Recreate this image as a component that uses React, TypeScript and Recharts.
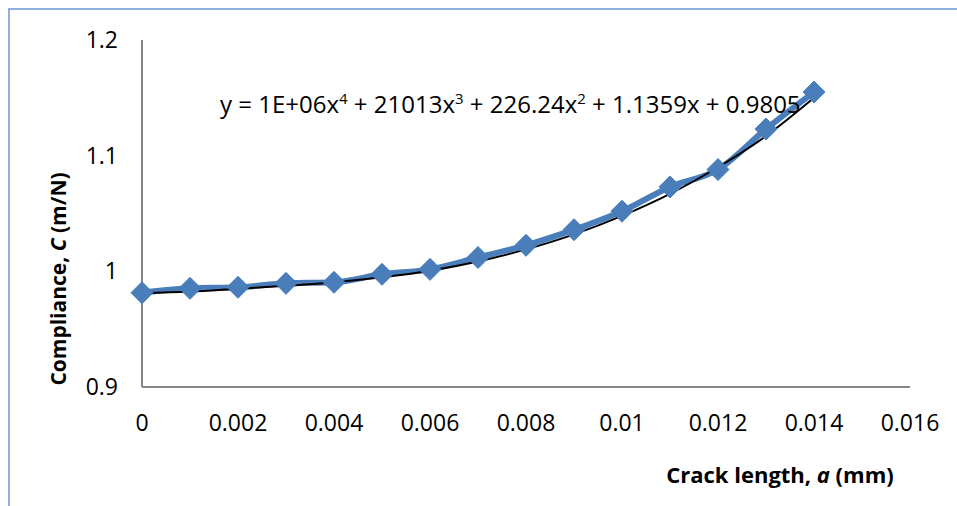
import React from 'react';
import { LineChart, Line, XAxis, YAxis } from 'recharts';

// crack length a (mm) and measured compliance C (m/N)
const crackLength = [0, 0.001, 0.002, 0.003, 0.004, 0.005, 0.006, 0.007, 0.008, 0.009, 0.01, 0.011, 0.012, 0.013, 0.014];
const compliance = [0.9815, 0.9853, 0.9862, 0.9896, 0.9905, 0.9974, 1.0017, 1.012, 1.0225, 1.036, 1.052, 1.073, 1.088, 1.123, 1.155];
// polynomial trendline
const trend = [0.981, 0.9825, 0.985, 0.9875, 0.9905, 0.9948, 1.0005, 1.0085, 1.019, 1.032, 1.048, 1.067, 1.09, 1.117, 1.15];

const xTicks = [0, 0.002, 0.004, 0.006, 0.008, 0.01, 0.012, 0.014, 0.016];
const yTicks = [0.9, 1, 1.1, 1.2];

const data = crackLength.map((a, i) => ({ a, c: compliance[i], fit: trend[i] }));

const FONT = '"Open Sans", "Liberation Sans", sans-serif';
const BLUE = '#4a7ebb';

const Diamond = (props: any) => {
  const { cx, cy } = props;
  if (cx == null || cy == null) return null;
  const r = 11;
  return (
    <polygon
      points={`${cx},${cy - r} ${cx + r},${cy} ${cx},${cy + r} ${cx - r},${cy}`}
      fill={BLUE}
      stroke={BLUE}
      strokeWidth={1}
    />
  );
};

const App = () => {
  return (
    <div style={{ position: 'absolute', left: 0, top: 0, width: 957, height: 506, background: '#fff', fontFamily: FONT }}>
      <div style={{ position: 'absolute', left: 8, top: 8, right: 0, bottom: 0, borderLeft: '2px solid #8fb0dc', borderTop: '2px solid #8fb0dc' }} />
      <LineChart width={957} height={506} data={data} margin={{ top: 40, right: 47, bottom: 19, left: 0 }}>
        <XAxis
          dataKey="a"
          type="number"
          domain={[0, 0.016]}
          ticks={xTicks}
          tickLine={false}
          tickSize={0}
          tickMargin={28}
          height={100}
          axisLine={{ stroke: '#868686', strokeWidth: 2 }}
          tick={{ fill: '#000', fontSize: 23, fontFamily: FONT }}
          label={{
            content: () => (
              <text x={780} y={483} textAnchor="middle" fontFamily={FONT} fontSize={22} fontWeight="bold" fill="#000">
                Crack length, <tspan fontStyle="italic">a</tspan> (mm)
              </text>
            ),
          }}
        />
        <YAxis
          type="number"
          domain={[0.9, 1.2]}
          ticks={yTicks}
          tickLine={false}
          tickSize={0}
          tickMargin={24}
          width={142}
          axisLine={{ stroke: '#868686', strokeWidth: 2 }}
          tick={{ fill: '#000', fontSize: 23, fontFamily: FONT }}
          label={{
            content: () => (
              <text
                x={66}
                y={279}
                transform="rotate(-90 66 279)"
                textAnchor="middle"
                fontFamily={FONT}
                fontSize={21}
                fontWeight="bold"
                fill="#000"
              >
                Compliance, <tspan fontStyle="italic">C</tspan> (m/N)
              </text>
            ),
          }}
        />
        <Line
          dataKey="c"
          type="monotone"
          stroke={BLUE}
          strokeWidth={6}
          dot={<Diamond />}
          isAnimationActive={false}
        />
        <Line dataKey="fit" type="monotone" stroke="#000" strokeWidth={2} dot={false} isAnimationActive={false} />
      </LineChart>
      <div style={{ position: 'absolute', left: 220, top: 83, fontSize: 24, color: '#000', whiteSpace: 'nowrap', lineHeight: '30px' }}>
        y = 1E+06x<sup style={{ fontSize: 15 }}>4</sup> + 21013x<sup style={{ fontSize: 15 }}>3</sup> + 226.24x
        <sup style={{ fontSize: 15 }}>2</sup> + 1.1359x + 0.9805
      </div>
    </div>
  );
};

export default App;
